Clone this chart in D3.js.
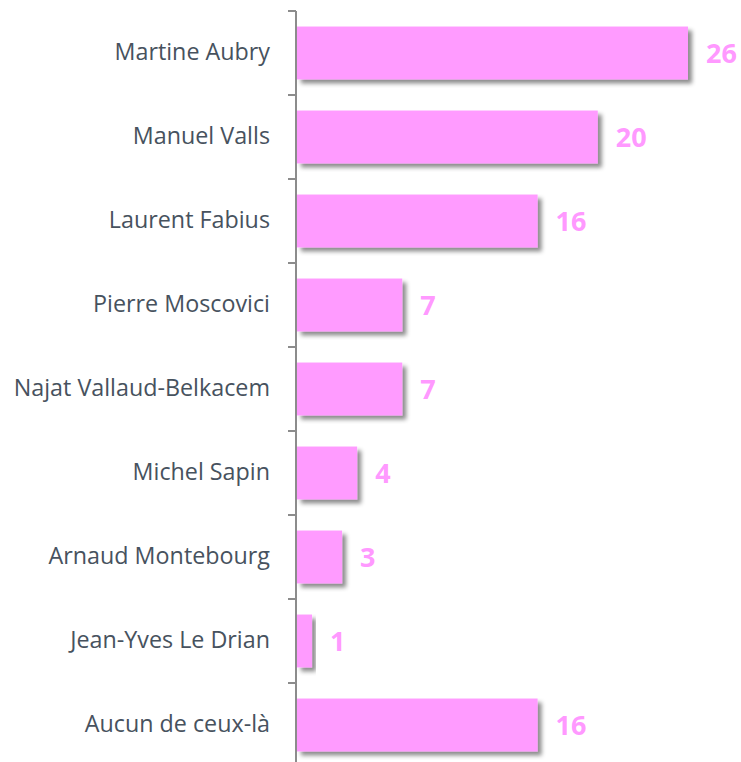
<!DOCTYPE html>
<html><head><meta charset="utf-8">
<script src="https://cdn.jsdelivr.net/npm/d3@7"></script>
<style>body{margin:0;background:#fff}svg{display:block}</style>
</head><body>
<svg id="c" width="741" height="762"></svg>
<script>
const categories = ["Martine Aubry","Manuel Valls","Laurent Fabius","Pierre Moscovici","Najat Vallaud-Belkacem","Michel Sapin","Arnaud Montebourg","Jean-Yves Le Drian","Aucun de ceux-là"];
const values = [26,20,16,7,7,4,3,1,16];

(function(){
const svg = d3.select("#c");
const x0 = 297, topY = 11, step = 84;
const y = d3.scaleBand().domain(categories).range([topY, topY + step*categories.length]).paddingInner(0.37).paddingOuter(0.185);
const x = d3.scaleLinear().domain([0,26]).range([x0, 688]);

const defs = svg.append("defs");
const f = defs.append("filter").attr("id","sh").attr("x","-10%").attr("y","-20%").attr("width","130%").attr("height","160%");
f.append("feDropShadow").attr("dx",4).attr("dy",4).attr("stdDeviation",2.2).attr("flood-color","#000").attr("flood-opacity",0.45);

svg.append("g").selectAll("rect").data(values).join("rect")
  .attr("x", x(0)).attr("y",(d,i)=>y(categories[i]))
  .attr("width", d=>x(d)-x(0)).attr("height", y.bandwidth())
  .attr("fill","#FF9BFF").attr("filter","url(#sh)");

const yb = d3.scaleBand().domain(categories).range([topY, topY+step*categories.length]);
const ax = svg.append("g").attr("transform",`translate(${x0-1},0)`)
  .call(d3.axisLeft(yb).tickSize(0).tickFormat(d=>d).tickPadding(26));
ax.select(".domain").attr("stroke","#8c8c8c").attr("stroke-width",2).attr("d",`M0,${topY}V762`);
ax.selectAll(".tick text").attr("font-family","Open Sans, sans-serif").attr("font-size",23.3).attr("fill","#47525e");
const bounds = d3.range(categories.length+1).map(i=>topY+i*step);
ax.append("g").selectAll("line").data(bounds).join("line")
  .attr("x1",-8).attr("x2",0).attr("y1",d=>d).attr("y2",d=>d).attr("stroke","#8c8c8c").attr("stroke-width",2);

svg.append("g").selectAll("text").data(values).join("text")
  .attr("x", d=>x(d)+18).attr("y",(d,i)=>y(categories[i])+y.bandwidth()/2)
  .attr("dy","0.36em").text(d=>d)
  .attr("font-family","Open Sans, sans-serif").attr("font-weight","bold").attr("font-size",27).attr("fill","#FF99FF");
})();
</script>
</body></html>
